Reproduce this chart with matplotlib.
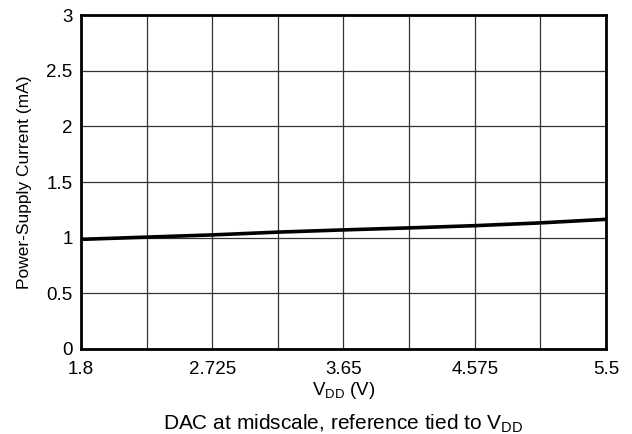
import numpy as np
import matplotlib.pyplot as plt

plt.rcParams['font.family'] = ['Liberation Sans', 'DejaVu Sans']
plt.rcParams['mathtext.fontset'] = 'custom'
plt.rcParams['mathtext.rm'] = 'Liberation Sans'

# supply voltage (V) and power-supply current (mA)
vdd = [1.8, 2.2625, 2.725, 3.1875, 3.65, 4.1125, 4.575, 5.0375, 5.5]
idd = [0.985, 1.005, 1.025, 1.05, 1.07, 1.088, 1.108, 1.133, 1.165]

x_ticks = [1.8, 2.725, 3.65, 4.575, 5.5]
y_ticks = [0, 0.5, 1, 1.5, 2, 2.5, 3]

fig = plt.figure(figsize=(6.32, 4.34), dpi=100)
ax = fig.add_axes([0.128, 0.196, 0.831, 0.769])

ax.plot(vdd, idd, color='black', linewidth=2.6, zorder=3)

ax.set_xlim(1.8, 5.5)
ax.set_ylim(0, 3)
ax.set_xticks(x_ticks)
ax.set_xticklabels(['1.8', '2.725', '3.65', '4.575', '5.5'])
ax.set_xticks(np.linspace(1.8, 5.5, 9), minor=True)
ax.set_yticks(y_ticks)
ax.set_yticklabels(['0', '0.5', '1', '1.5', '2', '2.5', '3'])

ax.grid(True, which='both', color='#333333', linewidth=0.9)
ax.tick_params(which='both', length=0, labelsize=13.5)
ax.tick_params(axis='x', pad=9)
ax.tick_params(axis='y', pad=6)

for s in ax.spines.values():
    s.set_linewidth(2)

ax.set_xlabel(r'V$_{\mathregular{DD}}$ (V)', fontsize=13.5, labelpad=1)
ax.set_ylabel('Power-Supply Current (mA)', fontsize=12.5, labelpad=10)

fig.text(0.543, 0.01, r'DAC at midscale, reference tied to V$_{\mathregular{DD}}$',
         ha='center', fontsize=15)

fig.savefig('out.png', dpi=100)
